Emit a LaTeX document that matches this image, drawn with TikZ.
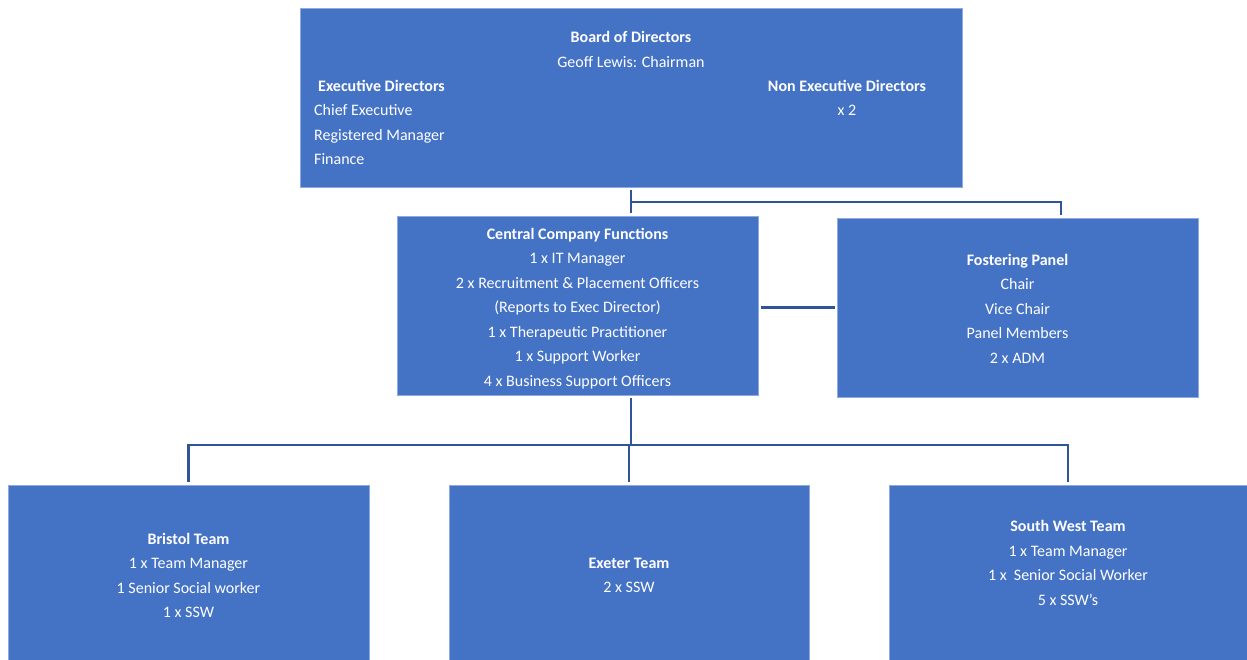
\documentclass[tikz,border=0pt]{standalone}
\usepackage{fontspec}
\setmainfont{Carlito}
\usetikzlibrary{calc}
\definecolor{boxblue}{HTML}{4472C4}
\definecolor{lineblue}{HTML}{2F5597}
\definecolor{edgeblue}{HTML}{8FAADC}
\tikzset{
  orgbox/.style={fill=boxblue, draw=edgeblue, line width=0.6pt, inner sep=0pt, outer sep=0pt},
  txt/.style={text=white, font=\fontsize{16}{24.5}\selectfont, align=center, inner sep=0pt},
  conn/.style={draw=lineblue, line width=2.3pt},
}
\begin{document}
\begin{tikzpicture}[x=1pt,y=-1pt]
\useasboundingbox (0,0) rectangle (1247,659);
% boxes
\node[orgbox, minimum width=662pt, minimum height=179pt] (board) at (631,97.5) {};
\node[orgbox, minimum width=361pt, minimum height=179pt] (central) at (577.5,305.5) {};
\node[orgbox, minimum width=361pt, minimum height=179pt] (foster) at (1017.5,307.5) {};
\node[orgbox, minimum width=361pt, minimum height=176pt] (bristol) at (188.5,573) {};
\node[orgbox, minimum width=360pt, minimum height=176pt] (exeter) at (629,573) {};
\node[orgbox, minimum width=358pt, minimum height=176pt] (sw) at (1068,573) {};
% texts
\node[txt] (boardtitle) at (631,49.5) {\textbf{Board of Directors}\\Geoff Lewis: Chairman};
\node[txt, align=left, anchor=west] (exec) at (314,122.5) {\hspace{4pt}\textbf{Executive Directors}\\Chief Executive\\Registered Manager\\Finance};
\node[txt] (nonexec) at (847,98) {\textbf{Non Executive Directors}\\x 2};
\node[txt] (centraltxt) at (577.5,308.5) {\textbf{Central Company Functions}\\1 x IT Manager\\2 x Recruitment \& Placement Officers\\(Reports to Exec Director)\\1 x Therapeutic Practitioner\\1 x Support Worker\\4 x Business Support Officers};
\node[txt] (fostertxt) at (1017.5,308.5) {\textbf{Fostering Panel}\\Chair\\Vice Chair\\Panel Members\\2 x ADM};
\node[txt] (bristoltxt) at (188.5,575.5) {\textbf{Bristol Team}\\1 x Team Manager\\1 Senior Social worker\\1 x SSW};
\node[txt] (exetertxt) at (629,575.5) {\textbf{Exeter Team}\\2 x SSW};
\node[txt] (swtxt) at (1068,563) {\textbf{South West Team}\\1 x Team Manager\\1 x\ \ Senior Social Worker\\5 x SSW’s};
% connectors
\coordinate (j1) at (631,202);
\coordinate (j2) at (631,445);
\coordinate (fp) at ($(foster.north west)!0.6205!(foster.north east)$);
\draw[conn, shorten <=3pt, shorten >=3pt] (board.south) -- (board.south |- central.north);
\draw[conn, shorten >=3pt] (j1) -| (fp);
\draw[conn, shorten <=3pt, shorten >=2pt] (central.east |- foster.west) -- (foster.west);
\draw[conn, shorten <=3pt] (board.south |- central.south) -- (j2);
\draw[conn, shorten <=3pt, shorten >=3pt] (bristol.north) |- (j2) -| (sw.north);
\draw[conn, shorten <=3pt] (exeter.north) -- (exeter.north |- j2);
\end{tikzpicture}
\end{document}
